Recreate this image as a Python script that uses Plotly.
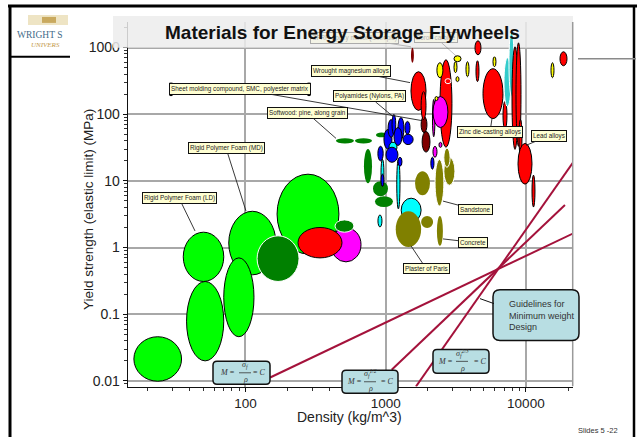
import plotly.graph_objects as go

W, H = 638, 439

# ---------------------------------------------------------------------------
# Material property bubbles: density range (kg/m^3) and yield strength range (MPa)
# ---------------------------------------------------------------------------
materials = [
    "Flexible polymer foam (VLD)", "Flexible polymer foam (LD)", "Rigid Polymer Foam (LD)",
    "Rigid Polymer Foam (MD)", "Flexible polymer foam (MD)", "Rigid Polymer Foam (HD)",
    "Cork", "Elastomeric foam", "Metal foam", "Balsa, across grain",
    "Softwood: pine, along grain", "Softwood: spruce, along grain", "Hardwood: oak, along grain",
    "Hardwood, across grain", "Softwood, across grain", "Plywood",
    "Butyl rubber", "Silicone elastomer", "Polyurethane elastomer", "Natural rubber",
    "Plaster of Paris", "Brick", "Concrete", "Limestone", "Sandstone", "Granite", "Marble",
    "Polyethylene (LDPE)", "Polyethylene (HDPE)", "Polypropylene", "Polyamides (Nylons, PA)",
    "Polycarbonate", "PMMA", "Polystyrene", "PET", "Ionomer", "ABS", "Epoxies", "Phenolics", "PTFE",
    "Sheet molding compound, SMC, polyester matrix", "Bulk molding compound, BMC", "CFRP, epoxy matrix",
    "Silicone, filled", "PVC, filled",
    "Wrought magnesium alloys", "Cast magnesium alloys", "Wrought aluminum alloys", "Boron carbide",
    "GFRP, thin section", "GFRP, epoxy matrix", "Alumina foam", "Cast aluminum alloys",
    "Silicon carbide", "Silicon nitride", "Aluminum nitride", "Alumina", "Titanium, cast",
    "Titanium alloys", "Zirconia", "Zinc die-casting alloys", "Zinc alloys, cast",
    "Borosilicate glass", "Silica glass", "Steels", "Nickel alloys", "Tin alloys",
    "Lead alloys", "Lead, pure", "Tungsten carbide", "Tungsten alloys",
]

family = [
    "foam", "foam", "foam", "foam", "foam", "foam",
    "wood", "hybrid", "metal", "wood",
    "wood", "wood", "wood", "wood", "wood", "wood",
    "elastomer", "elastomer", "elastomer", "elastomer",
    "porous", "porous", "porous", "porous", "porous", "porous", "porous",
    "polymer", "polymer", "polymer", "polymer", "polymer", "polymer", "polymer", "polymer",
    "elastomer", "polymer", "polymer", "polymer", "polymer",
    "composite", "composite", "composite",
    "hybrid", "hybrid",
    "metal", "metal", "metal", "ceramic",
    "hybrid", "hybrid", "ceramic", "metal",
    "ceramic", "ceramic", "ceramic", "ceramic", "metal",
    "metal", "ceramic", "metal", "metal",
    "glass", "glass", "metal", "metal", "metal",
    "metal", "metal", "ceramic", "metal",
]

rho_lo = [16, 38, 36, 76, 70, 168,
          121, 407, 237, 435,
          442, 604, 853, 700, 812, 839,
          881, 1290, 1200, 926,
          1180, 1790, 2320, 1620, 2250, 2600, 2600,
          880, 926, 972, 1040, 1224, 1110, 1146, 1373, 1056, 1005, 1330, 1224, 2100,
          1790, 1820, 1515,
          2175, 2400,
          1515, 1790, 2440, 2320,
          2157, 2175, 2247, 2650,
          3070, 3173, 3071, 3740, 4407,
          4335, 5826, 4945, 6866,
          6981, 7579, 7962, 8502, 8933,
          8786, 11060, 15107, 17510]

rho_hi = [35, 70, 70, 165, 115, 464,
          241, 667, 488, 594,
          594, 799, 1022, 799, 1039, 1127,
          941, 1790, 1265, 972,
          1790, 2180, 2560, 2070, 2600, 3120, 2880,
          960, 972, 1109, 1150, 1350, 1180, 1307, 1491, 1204, 1224, 1570, 1307, 2210,
          1970, 2070, 1590,
          2323, 2521,
          1940, 1940, 2970, 2560,
          2247, 2780, 2361, 2920,
          3450, 3334, 3227, 3929, 4630,
          4784, 6120, 6866, 7333,
          7832, 8228, 8786, 9230, 9382,
          11060, 11614, 15867, 19650]

sig_lo = [0.0099, 0.020, 0.31, 0.39, 0.046, 0.80,
          0.31, 0.61, 0.70, 1.7,
          36.5, 36.5, 45, 9.2, 5.9, 4.05,
          2.04, 2.4, 3.8, 8.3,
          1.02, 1.97, 1.06, 6.1, 4.2, 8.6, 16,
          20, 8.3, 30, 45, 42, 50, 34, 50, 27, 19, 35, 16.6, 15,
          53, 27, 590,
          22.6, 31.8,
          114, 83, 32, 353,
          46, 63, 160, 287,
          612, 308, 419, 365, 308,
          778, 515, 86, 59,
          130, 184, 29.7, 33, 24.2,
          8.93, 4.05, 353, 533]

sig_hi = [0.046, 0.31, 1.7, 3.5, 0.70, 12.6,
          1.5, 2.0, 2.0, 2.6,
          43.4, 43.4, 53, 30, 9.9, 5.9,
          3.08, 5.5, 21, 21,
          3.5, 2.97, 2.97, 14, 21, 22.6, 31,
          33, 12.6, 59, 83, 89, 99, 63, 78, 38, 32, 50, 22.6, 22.6,
          92, 55, 990,
          33, 37.8,
          434, 218, 655, 591,
          166, 184, 184, 341,
          752, 365, 612, 612, 633,
          1259, 726, 481, 155,
          702, 1838, 1024, 1175, 83.4,
          36.5, 12.2, 591, 863]

# Outline of each bubble: black, white or none
outline = ["k", "k", "k", "k", "k", "k",
           "w", "k", "k", "w",
           "", "", "", "", "", "",
           "k", "k", "k", "k",
           "", "", "", "", "w", "w", "w",
           "k", "k", "k", "k", "k", "k", "k", "k", "k", "k", "k", "k", "k",
           "k", "k", "",
           "k", "k",
           "k", "k", "k", "k",
           "k", "k", "k", "w",
           "k", "k", "k", "k", "k",
           "k", "k", "k", "k",
           "w", "w", "k", "k", "k",
           "k", "k", "k", "k"]

family_color = {
    "foam": "#00FF00", "wood": "#008000", "hybrid": "#FF00FF", "metal": "#FF0000",
    "elastomer": "#00FFFF", "porous": "#808000", "polymer": "#0000FF",
    "composite": "#800000", "ceramic": "#FFFF00", "glass": "#33CCCC",
}
edge_color = {"k": "#000000", "w": "#FFFFFF", "": "rgba(0,0,0,0)"}

# Minimum-weight guideline end points (density, strength)
guide_rho = [[150, 30000], [1104, 19000], [1644, 30000]]
guide_sig = [[0.01125, 2.25], [0.0147, 4.35], [0.00824, 50.1]]

# Labelled materials: text, tip point (pixels), box centre (pixels)
labels = [
    ("Wrought magnesium alloys", (410, 83), (351, 71.5)),
    ("Sheet molding compound, SMC, polyester matrix", (421, 121), (240, 89.5)),
    ("Softwood: pine, along grain", (336, 139), (307, 113.5)),
    ("Polyamides (Nylons, PA)", (393, 117), (369, 97)),
    ("Zinc die-casting alloys", (492, 119), (490, 132.5)),
    ("Lead alloys", (526, 146), (549, 136.5)),
    ("Sandstone", (443, 202), (475, 210.5)),
    ("Concrete", (443, 240), (473, 243.5)),
    ("Plaster of Paris", (411, 247), (426, 269.5)),
    ("Rigid Polymer Foam (MD)", (246, 212), (226, 149)),
    ("Rigid Polymer Foam (LD)", (195, 232), (179, 199)),
]
faded_labels = [
    ("CFRP, epoxy matrix (isotropic)", (411, 47), (354, 38)),
    ("Boron carbide", (457, 57), (436, 38)),
]

x_ticks = [100, 1000, 10000]
y_ticks = [0.01, 0.1, 1, 10, 100, 1000]


def fx(x):
    return x / W


def fy(y):
    return 1 - y / H


fig = go.Figure()

for xs, ys in zip(guide_rho, guide_sig):
    fig.add_trace(go.Scatter(x=xs, y=ys, mode="lines", line=dict(color="#A4123B", width=2),
                             hoverinfo="skip", showlegend=False))

shapes = []
annotations = []


def note(x, y, text, font, xanchor="center", yanchor="middle", **kw):
    annotations.append(dict(xref="paper", yref="paper", x=fx(x), y=fy(y), text=text,
                            showarrow=False, font=font, xanchor=xanchor, yanchor=yanchor, **kw))


def prect(x0, y0, x1, y1, fill, line=None):
    shapes.append(dict(type="rect", xref="paper", yref="paper", x0=fx(x0), x1=fx(x1),
                       y0=fy(y1), y1=fy(y0), fillcolor=fill,
                       line=line or dict(width=0), layer="above"))


# title band behind the heading
prect(113, 16, 573, 48, "rgba(236,236,236,0.85)")

for i in range(len(materials)):
    o = outline[i]
    shapes.append(dict(type="circle", xref="x", yref="y",
                       x0=rho_lo[i], x1=rho_hi[i], y0=sig_lo[i], y1=sig_hi[i],
                       fillcolor=family_color[family[i]],
                       line=dict(color=edge_color[o], width=1 if o else 0),
                       layer="above"))

# right edge of the plotting frame
shapes.append(dict(type="line", xref="paper", yref="paper", x0=fx(572.7), x1=fx(572.7),
                   y0=fy(388), y1=fy(22), line=dict(color="#9A9A9A", width=1.5)))


def rounded_box(x0, y0, x1, y1, r, fill, lw):
    def P(x, y):
        return f"{x / W:.5f},{1 - y / H:.5f}"
    path = (f"M {P(x0 + r, y0)} L {P(x1 - r, y0)} Q {P(x1, y0)} {P(x1, y0 + r)} "
            f"L {P(x1, y1 - r)} Q {P(x1, y1)} {P(x1 - r, y1)} L {P(x0 + r, y1)} "
            f"Q {P(x0, y1)} {P(x0, y1 - r)} L {P(x0, y0 + r)} Q {P(x0, y0)} {P(x0 + r, y0)} Z")
    shapes.append(dict(type="path", xref="paper", yref="paper", path=path,
                       fillcolor=fill, line=dict(color="#111111", width=lw), layer="above"))


BOX_BLUE = "#B8DEE3"
serif_font = dict(family="Liberation Serif, Times New Roman, serif", size=8, color="#333333")


def formula_box(x0, y0, x1, y1, numer, xl, xc, xr):
    rounded_box(x0, y0, x1, y1, 4, BOX_BLUE, 1.5)
    yc = (y0 + y1) / 2
    note(xl, yc, "<i>M</i> =", serif_font)
    note(xc, yc - 0.3, numer, serif_font, yanchor="bottom")
    note(xc, yc + 0.3, "<i>ρ</i>", serif_font, yanchor="top")
    note(xr, yc, "= <i>C</i>", serif_font)
    shapes.append(dict(type="line", xref="paper", yref="paper", x0=fx(xc - 6), x1=fx(xc + 6),
                       y0=fy(yc), y1=fy(yc), line=dict(color="#333333", width=0.8)))


formula_box(213, 363, 270, 386, "<i>σ<sub>f</sub></i>", 227, 245, 259)
formula_box(342, 372, 398, 395, "<i>σ<sub>f</sub><sup>1/2</sup></i>", 354, 370, 388)
formula_box(433, 351, 489, 375, "<i>σ<sub>f</sub><sup>2/3</sup></i>", 445, 462, 480)

# guideline note
rounded_box(493, 291, 579, 342, 7, BOX_BLUE, 1.5)
shapes.append(dict(type="line", xref="paper", yref="paper", x0=fx(480), x1=fx(494),
                   y0=fy(300), y1=fy(305), line=dict(color="#111111", width=1)))
note(507, 316.5, "Guidelines for<br>Minimum weight<br>Design",
     dict(family="Liberation Sans, Arial", size=9, color="#333333"), xanchor="left", align="left")

label_font = dict(family="Liberation Sans, Arial", size=6.3, color="#222222")
for group, op in ((labels, 1.0), (faded_labels, 0.3)):
    for text, tip, box in group:
        annotations.append(dict(xref="paper", yref="paper", x=fx(tip[0]), y=fy(tip[1]),
                                ax=box[0] - tip[0], ay=box[1] - tip[1], axref="pixel", ayref="pixel",
                                text=text, showarrow=True, arrowhead=0, arrowwidth=0.9,
                                arrowcolor="#222222", bgcolor="#FFFFD2", bordercolor="#111111",
                                borderwidth=1, borderpad=1, font=label_font, opacity=op))

# selection handles on the SMC label box
for hx, hy in [(171, 84.5), (309, 84.5), (171, 95), (309, 95)]:
    prect(hx - 1.5, hy - 1.5, hx + 1.5, hy + 1.5, "#000000")

# heading
note(342, 33, "<b>Materials for Energy Storage Flywheels</b>",
     dict(family="Liberation Sans, Arial", size=19, color="#111111"))

# axis titles
note(88, 211, "Yield strength (elastic limit) (MPa)",
     dict(family="Liberation Sans, Arial", size=13.5, color="#222222"), textangle=-90)
note(349, 419, "Density (kg/m^3)", dict(family="Liberation Sans, Arial", size=14, color="#222222"))

# slide frame and footer
for (x0, y0, x1, y1, c, w) in [(8, 6, 637, 6, "#000000", 3), (10, 5, 10, 439, "#000000", 3),
                                (634, 5, 634, 439, "#000000", 2.5), (10, 57, 70, 57, "#000000", 2),
                                (578, 59, 636, 59, "#8A8A8A", 1.5)]:
    shapes.append(dict(type="line", xref="paper", yref="paper", x0=fx(x0), x1=fx(x1),
                       y0=fy(y0), y1=fy(y1), line=dict(color=c, width=w)))

prect(28, 15, 68, 25, "#EEE4C4")
prect(42, 17, 56, 23, "#C9A95E")
note(15, 35.5, "WRIGHT S", dict(family="Liberation Serif, serif", size=9.5, color="#3F6A88"),
     xanchor="left")
note(29, 45.5, "<i>UNIVERS</i>", dict(family="Liberation Serif, serif", size=7, color="#C49A4A"),
     xanchor="left")
note(598, 432, "Slides 5 -22", dict(family="Liberation Sans, Arial", size=7.5, color="#333333"))

x_minor = [k * 10 ** n for n in range(1, 5) for k in range(2, 10)]
y_minor = [k * 10.0 ** n for n in range(-3, 4) for k in range(2, 10)]

axis_common = dict(type="log", showgrid=True, gridcolor="#A8A8A8", gridwidth=1.5,
                   zeroline=False, showline=True, linecolor="#111111", linewidth=1,
                   ticks="outside", ticklen=4, tickcolor="#111111",
                   tickfont=dict(family="Liberation Sans, Arial", size=14, color="#222222"))

fig.update_layout(
    width=W, height=H,
    margin=dict(l=0, r=0, t=0, b=0),
    paper_bgcolor="white", plot_bgcolor="white",
    showlegend=False,
    xaxis=dict(**axis_common, range=[1.160, 4.334], domain=[fx(127.7), fx(572.7)],
               tickvals=x_ticks, ticktext=[str(v) for v in x_ticks],
               minor=dict(tickmode="array", tickvals=x_minor, ticks="outside", ticklen=3,
                          tickcolor="#333333", showgrid=False)),
    yaxis=dict(**axis_common, range=[-2.084, 3.384], domain=[fy(388.3), fy(22)],
               tickvals=y_ticks, ticktext=["0.01", "0.1", "1", "10", "100", "1000"],
               minor=dict(tickmode="array", tickvals=y_minor, ticks="outside", ticklen=2.5,
                          tickcolor="#333333", showgrid=False)),
    shapes=shapes,
    annotations=annotations,
)
fig.update_xaxes(tickfont_size=13.5)

fig.write_html("out.html")
